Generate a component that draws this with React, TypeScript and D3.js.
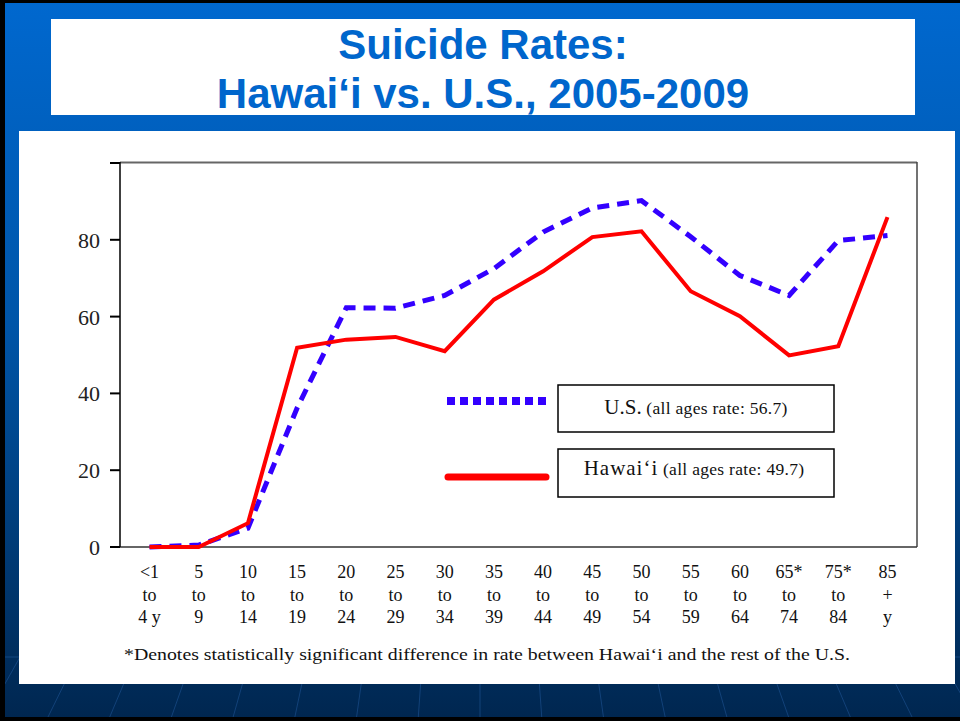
import React from "react";
import * as d3 from "d3";

const categories = ["<1-4", "5-9", "10-14", "15-19", "20-24", "25-29", "30-34", "35-39", "40-44", "45-49", "50-54", "55-59", "60-64", "65-74", "75-84", "85+"];
const labelRows: string[][] = [
  ["<1", "to", "4 y"], ["5", "to", "9"], ["10", "to", "14"], ["15", "to", "19"],
  ["20", "to", "24"], ["25", "to", "29"], ["30", "to", "34"], ["35", "to", "39"],
  ["40", "to", "44"], ["45", "to", "49"], ["50", "to", "54"], ["55", "to", "59"],
  ["60", "to", "64"], ["65*", "to", "74"], ["75*", "to", "84"], ["85", "+", "y"],
];
const usRates = [0, 0.5, 4.9, 36.2, 62.3, 62.2, 65.5, 72.5, 82.0, 88.3, 90.2, 80.8, 70.7, 65.5, 79.8, 81.1];
const hawaiiRates = [0, 0, 6.2, 51.9, 54.0, 54.7, 51.0, 64.4, 71.8, 80.7, 82.2, 66.6, 60.1, 49.9, 52.3, 85.9];
const yTicks = [0, 20, 40, 60, 80, 100];
const yTickLabels = ["0", "20", "40", "60", "80", ""];

const W = 960;
const H = 721;
const plot = { left: 120, right: 917, top: 163, bottom: 547 };

export default function App() {
  const x = d3.scalePoint<string>().domain(categories).range([plot.left, plot.right]).padding(0.6);
  const y = d3.scaleLinear().domain([0, 100]).range([plot.bottom, plot.top]);
  const line = d3.line<number>().x((_, i) => x(categories[i]) as number).y((d) => y(d));

  // radiating background lines
  const vx = 480, vy = -160;
  const rays: number[] = d3.range(-14, 15).map((k) => vx + k * 62);

  return (
    <svg width={W} height={H} style={{ position: "absolute", left: 0, top: 0 }} fontFamily="'Liberation Serif', 'Times New Roman', serif">
      <defs>
        <linearGradient id="bg" x1="0" y1="0" x2="0" y2="1">
          <stop offset="0" stopColor="#0068cf" />
          <stop offset="0.45" stopColor="#0055a8" />
          <stop offset="1" stopColor="#00264f" />
        </linearGradient>
      </defs>
      <rect x={0} y={0} width={W} height={H} fill="url(#bg)" />
      {rays.map((bx, i) => {
        const y0 = 640, y1 = 721;
        const xAt = (yy: number) => vx + (bx - vx) * ((yy - vy) / (721 - vy));
        return <line key={i} x1={xAt(y0)} y1={y0} x2={xAt(y1)} y2={y1} stroke="#3a7fd0" strokeOpacity={0.3} strokeWidth={1} />;
      })}
      <line x1={0} y1={657} x2={W} y2={657} stroke="#3a7fd0" strokeOpacity={0.3} strokeWidth={1} />
      {/* black frame */}
      <rect x={0} y={0} width={5} height={H} fill="#000" />
      <rect x={0} y={0} width={W} height={3} fill="#000" />
      <rect x={0} y={H - 4} width={W} height={4} fill="#000" />

      {/* title box */}
      <rect x={51} y={19} width={864} height={96} fill="#fff" />
      <text x={483} y={59} textAnchor="middle" fontFamily="'Liberation Sans', Arial, sans-serif" fontWeight="bold" fontSize={42} fill="#0066cc">Suicide Rates:</text>
      <text x={483} y={108} textAnchor="middle" fontFamily="'Liberation Sans', Arial, sans-serif" fontWeight="bold" fontSize={42} fill="#0066cc">Hawai‘i vs. U.S., 2005-2009</text>

      {/* chart white area */}
      <rect x={19} y={131} width={936} height={553} fill="#fff" />

      {/* frame */}
      <line x1={plot.left} y1={plot.top - 0.5} x2={plot.right} y2={plot.top - 0.5} stroke="#666" strokeWidth={2} />
      <line x1={plot.right} y1={plot.top - 1} x2={plot.right} y2={plot.bottom} stroke="#444" strokeWidth={1.5} />
      <line x1={plot.left - 10} y1={plot.bottom} x2={plot.right} y2={plot.bottom} stroke="#333" strokeWidth={1.5} />
      <line x1={plot.left} y1={plot.top - 1} x2={plot.left} y2={plot.bottom} stroke="#000" strokeWidth={1.5} />

      {/* y ticks */}
      {yTicks.map((t, i) => (
        <g key={t}>
          <line x1={plot.left - 10} y1={y(t)} x2={plot.left} y2={y(t)} stroke="#000" strokeWidth={2} />
          <text x={100} y={y(t) + 8} textAnchor="end" fontSize={22} fill="#222">{yTickLabels[i]}</text>
        </g>
      ))}

      {/* x labels */}
      {labelRows.map((rows, i) => (
        <g key={i}>
          {rows.map((r, j) => (
            <text key={j} x={x(categories[i]) as number} y={578 + j * 22.5} textAnchor="middle" fontSize={18} fill="#111">{r}</text>
          ))}
        </g>
      ))}

      {/* series */}
      <path d={line(usRates) || ""} fill="none" stroke="#3300ff" strokeWidth={5} strokeDasharray="12 8" />
      <path d={line(hawaiiRates) || ""} fill="none" stroke="#ff0000" strokeWidth={4} />

      {/* legend */}
      <line x1={447} y1={401} x2={547} y2={401} stroke="#3300ff" strokeWidth={8} strokeDasharray="8 5" />
      <rect x={558} y={385} width={276} height={47} fill="#fff" stroke="#000" strokeWidth={1.5} />
      <text x={696} y={414} textAnchor="middle" fill="#111">
        <tspan fontSize={21}>U.S.</tspan>
        <tspan fontSize={17.5} letterSpacing={0.3}> (all ages rate: 56.7)</tspan>
      </text>
      <line x1={448} y1={477} x2={546} y2={477} stroke="#ff0000" strokeWidth={7} strokeLinecap="round" />
      <rect x={558} y={449} width={276} height={48} fill="#fff" stroke="#000" strokeWidth={1.5} />
      <text x={694} y={475} textAnchor="middle" fill="#111">
        <tspan fontSize={21} letterSpacing={1}>Hawai‘i</tspan>
        <tspan fontSize={17.5} letterSpacing={0.3}> (all ages rate: 49.7)</tspan>
      </text>

      {/* footnote */}
      <text x={487} y={660} textAnchor="middle" fontSize={17.5} fill="#111" textLength={726} lengthAdjust="spacingAndGlyphs">*Denotes statistically significant difference in rate between Hawai‘i and the rest of the U.S.</text>
    </svg>
  );
}
